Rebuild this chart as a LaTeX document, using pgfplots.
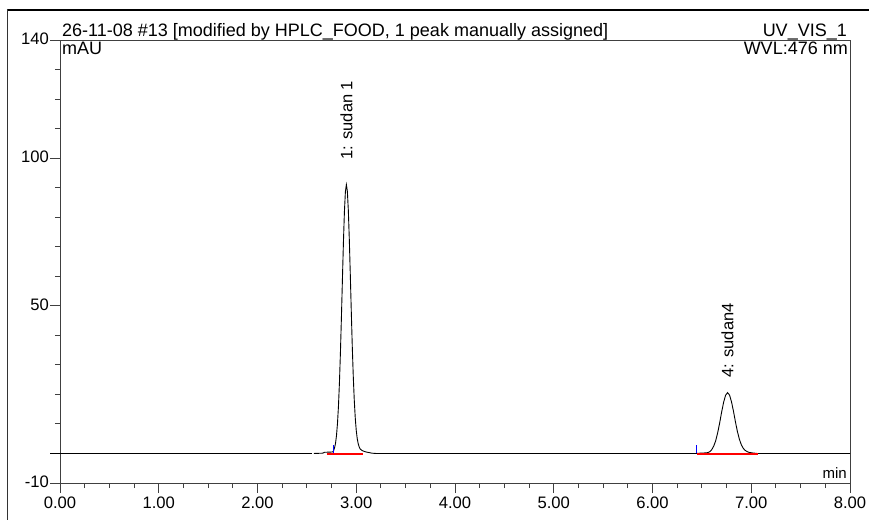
\documentclass[border=0pt]{standalone}
\usepackage{fontspec}
\setmainfont{Liberation Sans}
\usepackage{pgfplots}
\pgfplotsset{compat=1.18}
\definecolor{intred}{RGB}{255,0,0}
\definecolor{markblue}{RGB}{0,0,255}
\begin{document}
\begin{tikzpicture}
\useasboundingbox (-60pt,-37pt) rectangle (809pt,483pt);
% outer frame of the report page
\draw[line width=2.8pt] (-53pt,473pt) -- (809pt,473pt);
\draw[line width=0.8pt,black!80] (-53pt,474pt) -- (-53pt,-37pt);
\begin{axis}[
  at={(0pt,0pt)}, anchor=south west,
  scale only axis, width=790pt, height=443pt,
  xmin=0, xmax=8, ymin=-10, ymax=140,
  clip=false,
  axis line style={line width=0.9pt, black!75},
  tick align=outside, xtick pos=bottom, ytick pos=left,
  major tick length=10pt, minor tick length=5pt,
  tick style={line width=0.9pt, black!75},
  xtick={0,1,...,8},
  xticklabels={0.00,1.00,2.00,3.00,4.00,5.00,6.00,7.00,8.00},
  minor xtick={0.25,0.5,...,7.75},
  ytick={-10,50,100,140},
  yticklabels={-10,50,100,140},
  minor ytick={0,10,...,130},
  /pgf/number format/assume math mode=true,
  every tick label/.append style={font=\fontsize{16.6}{18}\selectfont},
  yticklabel style={inner sep=1pt, yshift=1.5pt},
]
% zero line before the run
\addplot[black, line width=0.9pt] coordinates {(-0.1,0) (2.555,0)};
% signal
\addplot[black, line width=0.9pt] coordinates {
 (2.57,0) (2.66,0.1) (2.68,0.4) (2.76,0.5) (2.77,0.9) (2.78,1.9) (2.79,3.4)
 (2.80,6.1) (2.81,10.2) (2.82,16.1) (2.83,24.2) (2.84,34.4) (2.85,46.3)
 (2.86,59.0) (2.87,71.3) (2.88,81.7) (2.89,88.6) (2.90,91.0) (2.91,88.8)
 (2.92,82.2) (2.93,72.2) (2.94,60.3) (2.95,47.8) (2.96,36.0) (2.97,26.0)
 (2.98,18.0) (2.99,12.0) (3.00,7.8) (3.01,5.0) (3.02,3.3) (3.03,2.2)
 (3.04,1.5) (3.06,1.0) (3.08,0.7) (3.10,0.5) (3.13,0.3) (3.16,0.1) (3.20,0)
 (6.44,0) (6.48,0.1) (6.54,0.2) (6.56,0.3) (6.58,0.6) (6.60,1.3) (6.62,2.5)
 (6.64,4.3) (6.66,7.0) (6.68,10.3) (6.70,14.0) (6.72,17.3) (6.74,19.7)
 (6.76,20.6) (6.78,19.8) (6.80,17.5) (6.82,14.3) (6.84,10.7) (6.86,7.4)
 (6.88,4.8) (6.90,2.9) (6.92,1.7) (6.94,1.0) (6.96,0.6) (6.98,0.35)
 (7.02,0.15) (7.06,0) (8.00,0)
};
% integration baselines
\addplot[draw=intred, line width=1.8pt] coordinates {(2.70,-0.2) (3.07,-0.2)};
\addplot[draw=intred, line width=1.8pt] coordinates {(6.45,-0.2) (7.07,-0.2)};
% peak start markers
\addplot[draw=markblue, line width=0.9pt] coordinates {(2.77,0) (2.77,3)};
\addplot[draw=markblue, line width=0.9pt] coordinates {(6.44,0) (6.44,3)};
% peak names
\node[rotate=90, anchor=west, inner sep=0pt, font=\fontsize{16.5}{18}\selectfont]
  at (axis cs:2.90,99.5) {1: sudan 1};
\node[rotate=90, anchor=west, inner sep=0pt, font=\fontsize{16.5}{18}\selectfont]
  at (axis cs:6.76,25.7) {4: sudan4};
% header texts
\node[anchor=base west, inner sep=0pt, font=\fontsize{18}{20}\selectfont]
  at ([xshift=2pt,yshift=3pt]rel axis cs:0,1)
  {26-11-08 \#13 [modified by HPLC\_FOOD, 1 peak manually assigned]};
\node[anchor=base east, inner sep=0pt, font=\fontsize{18}{20}\selectfont]
  at ([xshift=-3pt,yshift=3pt]rel axis cs:1,1) {UV\_VIS\_1};
\node[anchor=north west, inner sep=0pt, font=\fontsize{18}{20}\selectfont]
  at ([xshift=2pt,yshift=-2pt]rel axis cs:0,1) {mAU};
\node[anchor=north east, inner sep=0pt, font=\fontsize{18}{20}\selectfont]
  at ([xshift=-2pt,yshift=-2pt]rel axis cs:1,1) {WVL:476 nm};
\node[anchor=base east, inner sep=0pt, font=\fontsize{15}{18}\selectfont]
  at ([xshift=-3pt,yshift=5pt]rel axis cs:1,0) {min};
\end{axis}
\end{tikzpicture}
\end{document}
